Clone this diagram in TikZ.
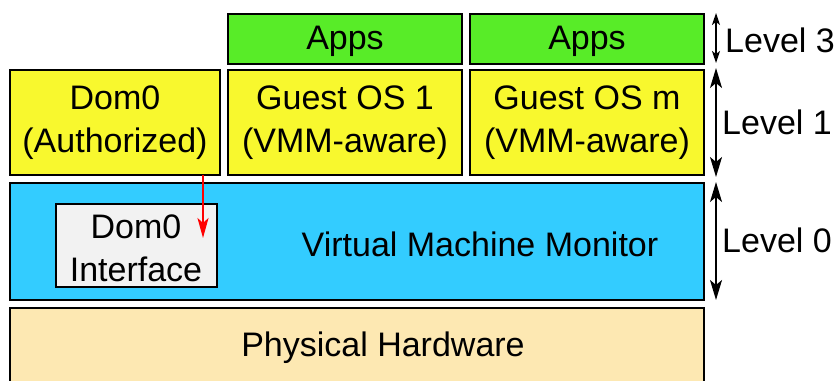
\documentclass[tikz,border=0pt]{standalone}
\usepackage{fontspec}
\setmainfont{Liberation Sans}
\usetikzlibrary{arrows.meta}
\definecolor{appgreen}{HTML}{58EC28}
\definecolor{osyellow}{HTML}{F8F82E}
\definecolor{vmmblue}{HTML}{33CCFF}
\definecolor{hwpeach}{HTML}{FDE8B2}
\definecolor{ifgray}{HTML}{F2F2F2}
\begin{document}
\begin{tikzpicture}[x=1pt,y=-1pt,
  blk/.style={draw=black,line width=2.8pt},
  txt/.style={inner sep=0pt,align=center,font=\fontsize{34}{43}\selectfont},
  lvl/.style={{Stealth[length=20pt,width=12pt,inset=5pt]}-{Stealth[length=20pt,width=12pt,inset=5pt]},line width=1.6pt},
  lvlsmall/.style={{Stealth[length=12pt,width=8pt,inset=3pt]}-{Stealth[length=12pt,width=8pt,inset=3pt]},line width=1.6pt},
  lbl/.style={anchor=west,inner sep=0pt,font=\fontsize{34}{43}\selectfont}]
\useasboundingbox (0,0) rectangle (834,380);
% boxes
\draw[blk,fill=appgreen] (228,14) rectangle (462,64);
\node[txt] (apps1) at (345,41) {Apps};
\draw[blk,fill=appgreen] (470,14) rectangle (704,64);
\node[txt] (apps2) at (587,41) {Apps};
\draw[blk,fill=osyellow] (10,70) rectangle (220,175);
\node[txt] (dom0) at (115,123) {Dom0\\(Authorized)};
\draw[blk,fill=osyellow] (228,70) rectangle (462,175);
\node[txt] (g1) at (345,123) {Guest OS 1\\(VMM-aware)};
\draw[blk,fill=osyellow] (470,70) rectangle (704,175);
\node[txt] (gm) at (587,123) {Guest OS m\\(VMM-aware)};
\draw[blk,fill=vmmblue] (10,183) rectangle (704,300);
\node[txt] (vmm) at (480,244) {Virtual Machine Monitor};
\draw[blk,fill=ifgray] (56,204) rectangle (217,287);
\node[txt] (dif) at (136,248) {Dom0\\Interface};
\draw[blk,fill=hwpeach] (10,308) rectangle (704,392);
\node[txt] (hw) at (383,348) {Physical Hardware};
% red arrow
\coordinate (rs) at (203,175);
\coordinate (re) at (203,238);
\draw[red,line width=2.2pt,-{Stealth[length=20pt,width=11pt,inset=5pt]}] (rs) -- (re);
% level arrows
\coordinate (l3t) at (716,13); \coordinate (l3b) at (716,63);
\coordinate (l1t) at (716,68); \coordinate (l1b) at (716,177);
\coordinate (l0t) at (716,182); \coordinate (l0b) at (716,300);
\draw[lvlsmall] (l3t) -- (l3b);
\draw[lvl] (l1t) -- (l1b);
\draw[lvl] (l0t) -- (l0b);
\node[lbl] (lv3) at (725,40) {Level 3};
\node[lbl] (lv1) at (722,122) {Level 1};
\node[lbl] (lv0) at (722,240) {Level 0};
\end{tikzpicture}
\end{document}
